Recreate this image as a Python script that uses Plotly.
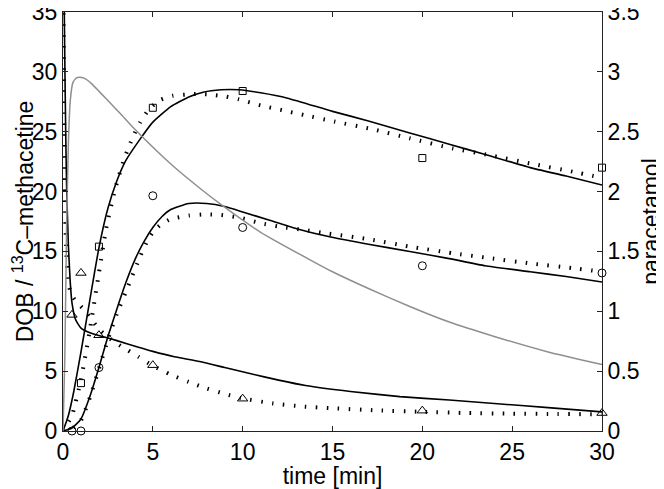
import plotly.graph_objects as go

# ---------------- data ----------------
# paracetamol model curve (right axis units)
t_para = [0, 0.1, 0.2, 0.3, 0.4, 0.55, 0.75, 0.9, 1.2, 1.6, 2.5, 3.2, 4.0, 6.0, 7.6, 8.9,
          11.0, 13.75, 15.0, 17.0, 19.3, 21.5, 24.0, 27.0, 30.0]
v_para = [0, 0.6, 1.7, 2.4, 2.75, 2.91, 2.95, 2.955, 2.945, 2.90, 2.76, 2.65, 2.52, 2.23, 2.03, 1.88,
          1.66, 1.43, 1.33, 1.19, 1.04, 0.91, 0.79, 0.66, 0.555]

# square series: solid model, dotted model, measurements
t_sq_fit = [0, 0.3, 0.6, 1.0, 1.5, 2.0, 2.5, 3.0, 3.5, 4.3, 5.0, 6.0, 7.0, 7.8, 8.8, 9.8,
            11.0, 12.5, 15.0, 17.0, 19.3, 21.5, 23.5, 26.0, 28.0, 30.0]
v_sq_fit = [0, 1.3, 3.3, 6.6, 11.0, 15.3, 18.6, 20.9, 22.6, 24.4, 25.8, 27.1, 27.9, 28.3, 28.5, 28.5,
            28.25, 27.8, 26.7, 25.9, 24.9, 23.95, 23.1, 22.0, 21.3, 20.55]
t_sq_alt = [0, 0.5, 1.0, 1.5, 2.0, 2.4, 2.9, 3.4, 3.9, 4.3, 4.8, 5.4, 6.1, 6.8, 7.5, 8.2, 9.0, 9.8,
            11.0, 12.2, 13.4, 15.1, 17.1, 19.3, 21.7, 23.7, 26.0, 28.4, 30.0]
v_sq_alt = [0, 1.3, 4.3, 8.5, 13.2, 16.9, 20.2, 22.7, 24.6, 25.8, 26.9, 27.65, 28.0, 28.1, 28.15, 28.1, 27.95, 27.7,
            27.2, 26.8, 26.4, 25.85, 25.25, 24.45, 23.6, 23.05, 22.35, 21.65, 21.15]
t_sq_obs = [1, 2, 5, 10, 20, 30]
v_sq_obs = [4.0, 15.4, 27.0, 28.4, 22.8, 22.0]

# circle series
t_ci_fit = [0, 0.5, 1.0, 1.5, 2.0, 2.5, 3.0, 3.5, 4.0, 4.5, 5.0, 5.5, 6.0, 7.0, 8.0, 9.0, 10.0,
            11.5, 13.0, 14.9, 17.0, 19.3, 21.5, 23.5, 26.0, 28.0, 30.0]
v_ci_fit = [0, 0.25, 1.0, 2.9, 5.3, 7.9, 10.2, 12.4, 14.3, 15.8, 17.0, 17.9, 18.5, 19.0, 19.0, 18.75, 18.3,
            17.6, 16.9, 16.2, 15.6, 15.0, 14.4, 13.8, 13.3, 12.9, 12.45]
t_ci_alt = [0, 0.5, 1.0, 1.5, 2.0, 2.6, 3.0, 3.6, 4.3, 4.7, 5.1, 5.5, 6.0, 7.0, 8.0, 8.8, 9.9,
            11.0, 12.1, 13.4, 14.7, 17.1, 19.3, 21.7, 23.7, 26.0, 28.4, 30.0]
v_ci_alt = [0, 0.2, 0.9, 2.8, 5.2, 8.1, 9.8, 12.0, 14.6, 15.9, 16.8, 17.3, 17.7, 18.0, 18.1, 18.05, 17.8,
            17.35, 17.05, 16.8, 16.5, 16.0, 15.4, 14.85, 14.45, 14.0, 13.6, 13.3]
t_ci_obs = [0.5, 1, 2, 5, 10, 20, 30]
v_ci_obs = [0.0, 0.0, 5.3, 19.65, 17.0, 13.8, 13.2]

# triangle series
t_tr_fit = [0, 0.05, 0.1, 0.15, 0.2, 0.3, 0.4, 0.5, 0.7, 1.0, 1.5, 2.3, 3.0, 4.2, 5.0, 6.2, 7.6,
            9.0, 10.4, 12.0, 13.5, 16.0, 18.75, 21.5, 24.0, 27.0, 30.0]
v_tr_fit = [45, 38, 31, 25, 20.5, 15.5, 12.5, 10.7, 9.3, 8.6, 8.2, 7.85, 7.55, 7.0, 6.65, 6.2, 5.8,
            5.3, 4.8, 4.25, 3.8, 3.3, 2.87, 2.59, 2.3, 1.95, 1.6]
t_tr_alt = [0, 0.03, 0.07, 0.12, 0.2, 0.3, 0.5, 0.8, 1.2, 1.6, 2.0, 2.5, 3.0, 3.6, 4.2, 5.0,
            6.0, 7.0, 8.0, 9.0, 9.9, 11.7, 13.3, 15.0, 17.5, 20.0, 22.5, 25.0, 27.5, 30.0]
v_tr_alt = [45, 35, 25, 18, 14.5, 12.3, 11.3, 10.7, 10.1, 9.3, 8.5, 7.85, 7.3, 6.75, 6.2, 5.45,
            4.7, 4.1, 3.55, 3.1, 2.75, 2.3, 2.05, 1.9, 1.72, 1.6, 1.5, 1.45, 1.42, 1.4]
t_tr_obs = [0.5, 1, 2, 5, 10, 20, 30]
v_tr_obs = [9.7, 13.2, 8.0, 5.5, 2.7, 1.7, 1.5]

x_ticks = [0, 5, 10, 15, 20, 25, 30]
y_ticks = [0, 5, 10, 15, 20, 25, 30, 35]
y2_ticks = [0, 0.5, 1, 1.5, 2, 2.5, 3, 3.5]

# ---------------- figure ----------------
FONT = "Liberation Sans, Arial, Helvetica, sans-serif"
FS = 23
solid = dict(color="black", width=1.6, shape="spline", smoothing=0.5)
dotted = dict(color="black", width=4, dash="1.5px,9.5px", shape="spline", smoothing=0.5)

fig = go.Figure()

fig.add_trace(go.Scatter(x=t_para, y=v_para, mode="lines", yaxis="y2",
                         line=dict(color="#8f8f8f", width=1.5, shape="spline", smoothing=0.5)))

for ta, va, tf, vf in [(t_sq_alt, v_sq_alt, t_sq_fit, v_sq_fit),
                       (t_ci_alt, v_ci_alt, t_ci_fit, v_ci_fit),
                       (t_tr_alt, v_tr_alt, t_tr_fit, v_tr_fit)]:
    fig.add_trace(go.Scatter(x=ta, y=va, mode="lines", line=dotted))
    fig.add_trace(go.Scatter(x=tf, y=vf, mode="lines", line=solid))

mk = dict(color="black", line=dict(color="black", width=1))
fig.add_trace(go.Scatter(x=t_sq_obs, y=v_sq_obs, mode="markers", cliponaxis=False,
                         marker=dict(symbol="square-open", size=7, **mk)))
fig.add_trace(go.Scatter(x=t_ci_obs, y=v_ci_obs, mode="markers", cliponaxis=False,
                         marker=dict(symbol="circle-open", size=8, **mk)))
fig.add_trace(go.Scatter(x=t_tr_obs, y=v_tr_obs, mode="markers", cliponaxis=False,
                         marker=dict(symbol="triangle-up-open", size=9, **mk)))

axis_common = dict(showgrid=False, zeroline=False, ticks="inside", ticklen=5,
                   tickcolor="#222", linecolor="#222", linewidth=1, showline=True,
                   automargin=False, ticklabeloverflow="allow",
                   tickfont=dict(family=FONT, size=FS, color="black"))

# page body has an 8px margin; size the figure so the plot area lands where the reference has it
fig.update_layout(
    width=656, height=481,
    margin=dict(l=55, r=62, t=4, b=58),
    paper_bgcolor="white", plot_bgcolor="white",
    showlegend=False,
    font=dict(family=FONT, size=FS, color="black"),
    xaxis=dict(range=[0, 30], tickvals=x_ticks, mirror="ticks",
               title=dict(text="time [min]", standoff=2, font=dict(family=FONT, size=FS)),
               **axis_common),
    yaxis=dict(range=[0, 35], tickvals=y_ticks, mirror=True,
               title=dict(text="DOB / <sup>13</sup>C\u2013methacetine", standoff=4,
                          font=dict(family=FONT, size=FS)),
               **axis_common),
    yaxis2=dict(range=[0, 3.5], tickvals=y2_ticks, overlaying="y", side="right",
                title=dict(text="paracetamol", standoff=4, font=dict(family=FONT, size=FS)),
                **axis_common),
)

fig.write_html("out.html")
